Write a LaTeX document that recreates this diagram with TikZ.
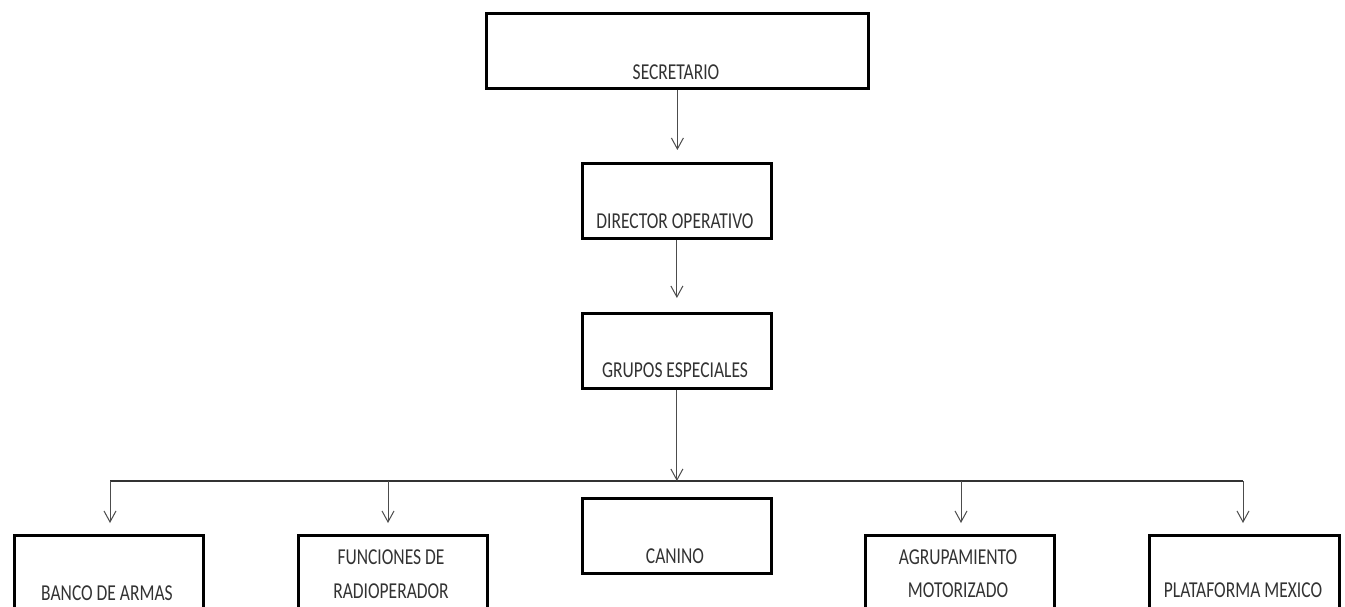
\documentclass[tikz,border=0pt]{standalone}
\usepackage{fontspec}
\setmainfont{Carlito}
\usetikzlibrary{arrows.meta}
\newcommand\stxt[1]{\scalebox{1}[1.3]{#1}}
\begin{document}
\begin{tikzpicture}[x=1pt,y=-1pt,
  box/.style={draw=black,line width=2.8pt,inner sep=0pt,minimum width=189pt,minimum height=75pt,anchor=north west},
  lbl/.style={text=black!80,font=\fontsize{17.5}{21}\selectfont,inner sep=0pt},
  conn/.style={draw=black!70,line width=1pt,-{Straight Barb[length=11pt,width=12pt]}},
  busline/.style={draw=black!80,line width=1.2pt}]
\useasboundingbox (0,0) rectangle (1345,607);
\clip (0,0) rectangle (1345,607);
\fill[white] (0,0) rectangle (1345,607);
% boxes
\node[box,minimum width=382pt] (sec) at (485,12) {};
\node[box] (dir) at (581,162) {};
\node[box] (gru) at (581,312) {};
\node[box] (ban) at (13,534) {};
\node[box] (fun) at (297,534) {};
\node[box] (can) at (581,497) {};
\node[box] (agr) at (864,534) {};
\node[box,minimum width=190pt] (pla) at (1148,534) {};
% labels
\node[lbl] (tsec) at (676,72) {\stxt{SECRETARIO}};
\node[lbl] (tdir) at (675,221) {\stxt{DIRECTOR OPERATIVO}};
\node[lbl] (tgru) at (675,370) {\stxt{GRUPOS ESPECIALES}};
\node[lbl] (tban) at (107,593) {\stxt{BANCO DE ARMAS}};
\node[lbl] (tfun1) at (391,557) {\stxt{FUNCIONES DE}};
\node[lbl] (tfun2) at (391,591) {\stxt{RADIOPERADOR}};
\node[lbl] (tcan) at (675,556) {\stxt{CANINO}};
\node[lbl] (tagr1) at (958,557) {\stxt{AGRUPAMIENTO}};
\node[lbl] (tagr2) at (958,590) {\stxt{MOTORIZADO}};
\node[lbl] (tpla) at (1243,590) {\stxt{PLATAFORMA MEXICO}};
% bus
\coordinate (bus) at (673,481);
\coordinate (bl) at (110,481);
\coordinate (b2) at (388,481);
\coordinate (b4) at (961,481);
\coordinate (br) at (1243,481);
\draw[busline] (bl) -- (br);
% connectors
\draw[conn,shorten >=12pt] (sec.south) -- (sec.south |- dir.north);
\draw[conn,shorten >=14pt] (dir.south) -- (dir.south |- gru.north);
\draw[conn] (gru.south) -- (gru.south |- bus);
\draw[conn,shorten >=11pt] (bl) -- (bl |- ban.north);
\draw[conn,shorten >=11pt] (b2) -- (b2 |- fun.north);
\draw[conn,shorten >=11pt] (b4) -- (b4 |- agr.north);
\draw[conn,shorten >=11pt] (br) -- (br |- pla.north);
\end{tikzpicture}
\end{document}
